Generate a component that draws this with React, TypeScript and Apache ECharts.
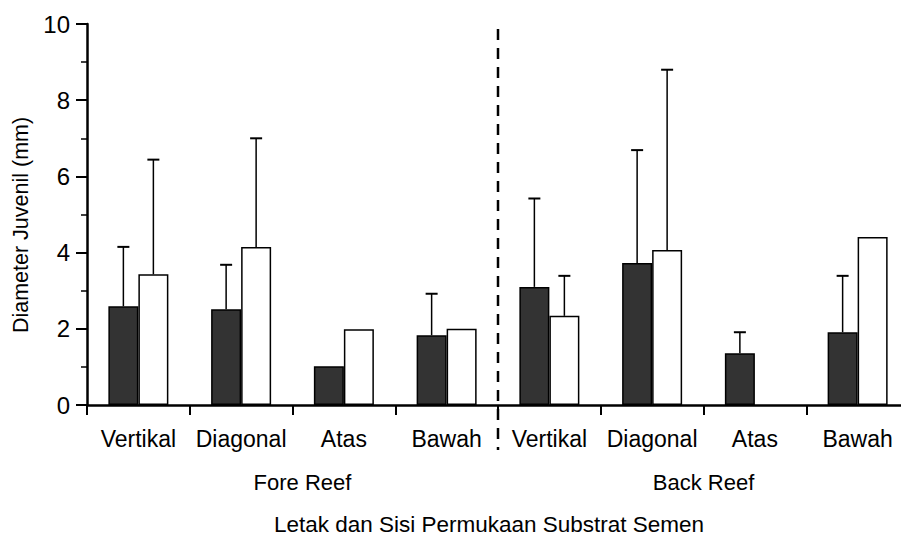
import React, { useEffect, useRef } from "react";
import * as echarts from "echarts";

const categories = ["Vertikal", "Diagonal", "Atas", "Bawah", "Vertikal", "Diagonal", "Atas", "Bawah"];
const groupLabels = ["Fore Reef", "Back Reef"];
const darkMeans = [2.59, 2.51, 1.02, 1.83, 3.1, 3.73, 1.36, 1.91];
const darkErr = [1.56, 1.17, 0, 1.09, 2.32, 2.96, 0.55, 1.48];
const whiteMeans: (number | null)[] = [3.43, 4.15, 1.99, 2.0, 2.34, 4.07, null, 4.41];
const whiteErr = [3.01, 2.85, 0, 0, 1.05, 4.73, 0, 0];
const yTicks = [0, 2, 4, 6, 8, 10];
const yAxisTitle = "Diameter Juvenil (mm)";
const xAxisTitle = "Letak dan Sisi Permukaan Substrat Semen";

const FONT = "Liberation Sans, Arial, sans-serif";
const BAR_W = 30;

function errSeries(means: (number | null)[], errs: number[], offset: number) {
  const data = means.map((m, i) => [i, m == null ? 0 : m, errs[i]]);
  return {
    type: "custom",
    silent: true,
    z: 5,
    data,
    renderItem: (params: any, api: any) => {
      const idx = api.value(0);
      const m = api.value(1);
      const e = api.value(2);
      if (!e) return { type: "group", children: [] };
      const p0 = api.coord([idx, m]);
      const p1 = api.coord([idx, m + e]);
      const x = p0[0] + offset;
      return {
        type: "group",
        children: [
          { type: "line", shape: { x1: x, y1: p0[1], x2: x, y2: p1[1] }, style: { stroke: "#000", lineWidth: 1.5 } },
          { type: "line", shape: { x1: x - 6, y1: p1[1], x2: x + 6, y2: p1[1] }, style: { stroke: "#000", lineWidth: 2 } },
        ],
      };
    },
  };
}

export default function App() {
  const ref = useRef<HTMLDivElement>(null);
  useEffect(() => {
    if (!ref.current) return;
    const chart = echarts.init(ref.current, null, { renderer: "svg" });
    const option: any = {
      animation: false,
      backgroundColor: "#fff",
      grid: { left: 87, top: 24, width: 822, height: 381, outerBoundsMode: "none" },
      xAxis: {
        type: "category",
        data: categories,
        axisLine: { lineStyle: { color: "#000", width: 2.5 } },
        axisTick: { show: true, length: 10, lineStyle: { color: "#000", width: 2 } },
        axisLabel: { color: "#000", fontSize: 23, fontFamily: FONT, margin: 22, interval: 0 },
        name: xAxisTitle,
        nameLocation: "middle",
        nameGap: 108,
        nameTextStyle: { color: "#000", fontSize: 22.5, fontFamily: FONT, padding: [0, 18, 0, 0] },
      },
      yAxis: {
        type: "value",
        min: 0,
        max: 10,
        interval: 2,
        axisLine: { show: true, lineStyle: { color: "#000", width: 2.5 } },
        axisTick: { show: true, length: 11, lineStyle: { color: "#000", width: 2 } },
        minorTick: { show: true, splitNumber: 2, length: 6, lineStyle: { color: "#000", width: 1.5 } },
        splitLine: { show: false },
        axisLabel: {
          color: "#000",
          fontSize: 24,
          fontFamily: FONT,
          margin: 17,
          formatter: (v: number) => (yTicks.includes(v) ? String(v) : ""),
        },
      },
      series: [
        {
          type: "bar",
          data: darkMeans,
          barWidth: BAR_W,
          barGap: "0%",
          itemStyle: { color: "#333333", borderColor: "#000", borderWidth: 1.5 },
        },
        {
          type: "bar",
          data: whiteMeans,
          barWidth: BAR_W,
          barGap: "0%",
          itemStyle: { color: "#ffffff", borderColor: "#000", borderWidth: 1.5 },
        },
        errSeries(darkMeans, darkErr, -BAR_W / 2),
        errSeries(whiteMeans, whiteErr, BAR_W / 2),
      ],
    };
    chart.setOption(option);
    const p3 = chart.convertToPixel({ xAxisIndex: 0 }, 3) as number;
    const p4 = chart.convertToPixel({ xAxisIndex: 0 }, 4) as number;
    const p0 = chart.convertToPixel({ xAxisIndex: 0 }, 0) as number;
    const p7 = chart.convertToPixel({ xAxisIndex: 0 }, 7) as number;
    const divX = (p3 + p4) / 2;
    const half = (p4 - p3) / 2;
    const foreX = (p0 - half + divX) / 2 + 10;
    const backX = (divX + p7 + half) / 2;
    chart.setOption({
      graphic: [
        {
          type: "line",
          shape: { x1: divX, y1: 29, x2: divX, y2: 450 },
          style: { stroke: "#000", lineWidth: 2.5, lineDash: [11, 8] },
          z: 10,
        },
        {
          type: "text",
          x: foreX,
          y: 482,
          style: { text: groupLabels[0], fill: "#000", font: `22px ${FONT}`, textAlign: "center", textVerticalAlign: "middle" },
        },
        {
          type: "text",
          x: backX,
          y: 482,
          style: { text: groupLabels[1], fill: "#000", font: `22px ${FONT}`, textAlign: "center", textVerticalAlign: "middle" },
        },
        {
          type: "text",
          x: 21,
          y: 225,
          rotation: Math.PI / 2,
          style: { text: yAxisTitle, fill: "#000", font: `21.5px ${FONT}`, textAlign: "center", textVerticalAlign: "middle" },
        },
      ],
    });
    return () => chart.dispose();
  }, []);
  return <div ref={ref} style={{ position: "absolute", left: 0, top: 0, width: 901, height: 539 }} />;
}
